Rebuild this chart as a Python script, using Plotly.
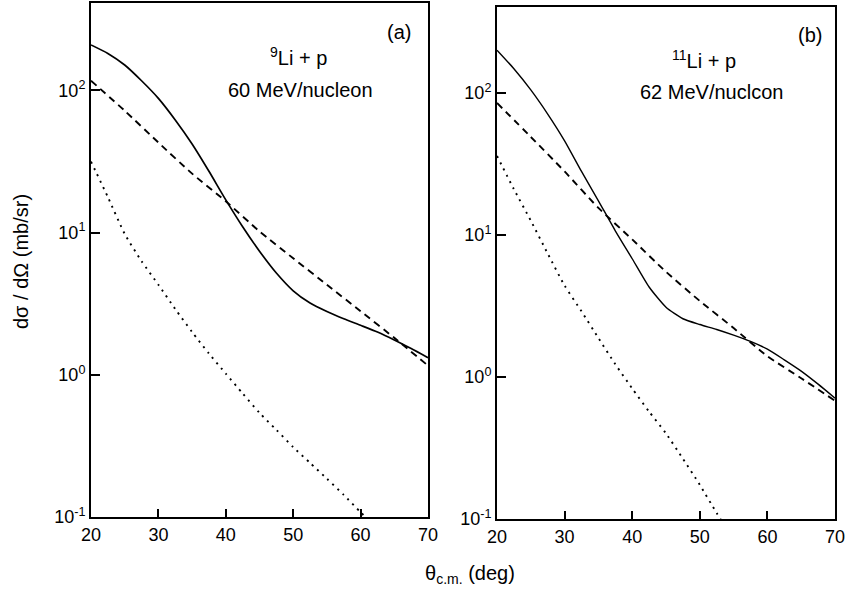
import plotly.graph_objects as go

# ---------------- data ----------------
theta_a_solid = [20, 22.5, 25, 27.5, 30, 32.5, 35, 37.5, 40, 42.5, 45, 47.5, 50, 52.5, 55, 57.5, 60, 62.5, 65, 67.5, 70]
a_solid = [209, 182, 151, 117, 88, 62, 42, 27, 17, 11, 7.4, 5.2, 3.9, 3.2, 2.79, 2.48, 2.23, 2.0, 1.76, 1.53, 1.32]

theta_a_dash = [20, 25, 30, 35, 40, 45, 50, 55, 60, 65, 70]
a_dash = [117, 72, 43, 26, 16.6, 10.2, 6.6, 4.3, 2.8, 1.82, 1.16]

theta_a_dot = [20, 22.5, 25, 27.5, 30, 32.5, 35, 37.5, 40, 42.5, 45, 47.5, 50, 52.5, 55, 57.5, 60, 62.5]
a_dot = [31.6, 17.8, 9.8, 6.3, 4.3, 2.9, 2.0, 1.41, 1.02, 0.74, 0.54, 0.41, 0.31, 0.24, 0.186, 0.143, 0.108, 0.083]

theta_b_solid = [20, 22.5, 25, 27.5, 30, 32.5, 35, 37.5, 40, 42.5, 45, 47.5, 50, 52.5, 55, 57.5, 60, 62.5, 65, 67.5, 70]
b_solid = [200, 148, 105, 71, 46, 28, 17.4, 10.7, 6.8, 4.3, 3.1, 2.57, 2.34, 2.16, 1.97, 1.78, 1.57, 1.32, 1.10, 0.89, 0.71]

theta_b_dash = [20, 25, 30, 35, 40, 45, 50, 55, 60, 65, 70]
b_dash = [85, 49, 28, 15.5, 9.3, 5.5, 3.43, 2.21, 1.40, 0.98, 0.68]

theta_b_dot = [20, 22.5, 25, 27.5, 30, 32.5, 35, 37.5, 40, 42.5, 45, 47.5, 50, 52.5, 55]
b_dot = [36, 21, 12.6, 7.4, 4.4, 2.9, 1.88, 1.23, 0.83, 0.57, 0.40, 0.266, 0.174, 0.11, 0.071]

x_tickvals = [20, 30, 40, 50, 60, 70]
x_ticktext = ["20", "30", "40", "50", "60", "70"]
x_minorvals = [25, 35, 45, 55, 65]
y_tickvals = [0.1, 1, 10, 100]
y_ticktext = ["10<sup>-1</sup>", "10<sup>0</sup>", "10<sup>1</sup>", "10<sup>2</sup>"]
y_minorvals = [0.2, 0.3, 0.4, 0.5, 0.6, 0.7, 0.8, 0.9,
               2, 3, 4, 5, 6, 7, 8, 9,
               20, 30, 40, 50, 60, 70, 80, 90,
               200, 300, 400]

# ---------------- figure ----------------
W, H = 847, 595
FONT = "Liberation Sans, Arial, Helvetica, sans-serif"

fig = go.Figure()

def add_curve(xs, ys, xa, ya, dash, width):
    fig.add_trace(go.Scatter(
        x=xs, y=ys, mode="lines", xaxis=xa, yaxis=ya,
        line=dict(color="black", width=width, dash=dash, shape="spline", smoothing=0.6),
        showlegend=False, hoverinfo="skip"))

add_curve(theta_a_solid, a_solid, "x", "y", "solid", 1.7)
add_curve(theta_a_dash, a_dash, "x", "y", "7px,5px", 1.9)
add_curve(theta_a_dot, a_dot, "x", "y", "2px,5px", 1.9)
add_curve(theta_b_solid, b_solid, "x2", "y2", "solid", 1.4)
add_curve(theta_b_dash, b_dash, "x2", "y2", "7px,5px", 1.9)
add_curve(theta_b_dot, b_dot, "x2", "y2", "2px,5px", 1.9)

def px_x(p):
    return min(1.0, max(0.0, p / W))

def px_y(p):
    return min(1.0, max(0.0, 1 - p / H))

XD = {1: [px_x(91), px_x(428)], 2: [px_x(497), px_x(835)]}
YD = {1: [px_y(517), px_y(3)], 2: [px_y(519), px_y(7)]}
YR = {1: [-1, 2.615], 2: [-1, 2.605]}
XR = [20, 70]

layout = dict(
    width=W, height=H,
    margin=dict(l=0, r=0, t=0, b=0, pad=0, autoexpand=False),
    paper_bgcolor="white", plot_bgcolor="white",
    font=dict(family=FONT, color="black"),
)

next_id = [3]

for p in (1, 2):
    sx = "" if p == 1 else "2"
    xbase = "x" + sx
    ybase = "y" + sx
    # base axes: frame and tick labels
    layout["xaxis" + sx] = dict(
        domain=XD[p], range=XR, anchor=ybase,
        tickmode="array", tickvals=x_tickvals, ticktext=x_ticktext,
        ticks="inside", ticklen=8, tickwidth=1.6, tickcolor="black",
        showline=True, linecolor="black", linewidth=2, mirror=True,
        showgrid=False, zeroline=False,
        tickfont=dict(family=FONT, size=18, color="black"))
    layout["yaxis" + sx] = dict(
        domain=YD[p], range=YR[p], type="log", anchor=xbase,
        tickmode="array", tickvals=y_tickvals, ticktext=y_ticktext,
        ticks="inside", ticklen=9, tickwidth=1.6, tickcolor="black",
        showline=True, linecolor="black", linewidth=2, mirror=True,
        showgrid=False, zeroline=False,
        tickfont=dict(family=FONT, size=18, color="black"))
    # tick-only axes: an axis drawn on the opposite side at a frame edge,
    # whose outside ticks point into the plotting area
    for vals, ln in ((x_tickvals, 8), (x_minorvals, 5)):
        for side, pos in (("top", YD[p][0]), ("bottom", YD[p][1])):
            k = next_id[0]
            next_id[0] += 1
            layout["xaxis%d" % k] = dict(
                domain=XD[p], range=XR, overlaying=xbase, anchor="free",
                side=side, position=pos,
                tickmode="array", tickvals=vals, ticks="outside",
                ticklen=ln, tickwidth=1.6, tickcolor="black",
                showticklabels=False, showline=False,
                showgrid=False, zeroline=False)
    for vals, ln in ((y_tickvals, 9), (y_minorvals, 5)):
        for side, pos in (("right", XD[p][0]), ("left", XD[p][1])):
            k = next_id[0]
            next_id[0] += 1
            layout["yaxis%d" % k] = dict(
                domain=YD[p], range=YR[p], type="log", overlaying=ybase,
                anchor="free", side=side, position=pos,
                tickmode="array", tickvals=vals, ticks="outside",
                ticklen=ln, tickwidth=1.6, tickcolor="black",
                showticklabels=False, showline=False,
                showgrid=False, zeroline=False)

fig.update_layout(**layout)

ann_font = dict(family=FONT, size=20, color="black")
annotations = [
    dict(text="(a)", x=px_x(399), y=px_y(32)),
    dict(text="<sup>9</sup>Li + p", x=px_x(298), y=px_y(57)),
    dict(text="60 MeV/nucleon", x=px_x(300), y=px_y(90)),
    dict(text="(b)", x=px_x(810), y=px_y(35)),
    dict(text="<sup>11</sup>Li + p", x=px_x(704), y=px_y(60)),
    dict(text="62 MeV/nuclcon", x=px_x(711), y=px_y(92)),
    dict(text="θ<sub>c.m.</sub> (deg)", x=px_x(470), y=px_y(574)),
]
for a in annotations:
    fig.add_annotation(xref="paper", yref="paper", showarrow=False,
                       xanchor="center", yanchor="middle", font=ann_font, **a)

fig.add_annotation(text="dσ / dΩ (mb/sr)", xref="paper", yref="paper",
                   x=px_x(21), y=px_y(262), textangle=-90, showarrow=False,
                   xanchor="center", yanchor="middle",
                   font=dict(family=FONT, size=20, color="black"))

fig.write_html("out.html", config={"displayModeBar": False},
               post_script="document.body.style.margin='0px';document.body.style.overflow='hidden';")
